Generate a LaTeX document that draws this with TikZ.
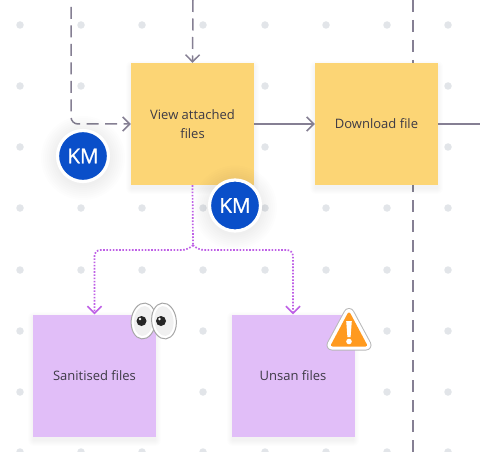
\documentclass[tikz,border=0pt]{standalone}
\usepackage{fontspec}
\setmainfont{Open Sans}
\newfontfamily\avatarfont[FakeBold=0.7]{Open Sans}
\usetikzlibrary{arrows.meta,shapes.geometric}
\definecolor{gridc}{HTML}{E2E5E9}
\definecolor{linec}{HTML}{857F93}
\definecolor{yellowc}{HTML}{FCD575}
\definecolor{purplec}{HTML}{E1BEF8}
\definecolor{purpleline}{HTML}{BE5FE6}
\definecolor{kmblue}{HTML}{0A4FC9}
\definecolor{txt}{HTML}{3D3A45}
\definecolor{warnc}{HTML}{FF9A1F}
\newcommand{\softbox}[4]{%
  \foreach \grow in {1,2,...,6}
    \fill[black,opacity=0.009,rounded corners=\grow pt] (#1-\grow+1,#2-\grow+4) rectangle (#3+\grow-1,#4+\grow+3);}
\newcommand{\softdisc}[3]{%
  \foreach \grow in {1,3,...,15}
    \fill[black,opacity=0.008] (#1,#2+2) circle ({#3+\grow});}
\tikzset{
  griddot/.style={circle,fill=gridc,draw=none,minimum size=7.5pt,inner sep=0pt},
  note/.style={minimum width=123pt,minimum height=122pt,inner sep=0pt,align=center,text=txt,font=\fontsize{13}{18.5}\selectfont},
  yellownote/.style={note,fill=yellowc},
  purplenote/.style={note,fill=purplec},
  flow/.style={draw=linec,line width=1.5pt,-{Straight Barb[length=7pt,width=14pt,line width=1.5pt]}},
  plainflow/.style={draw=linec,line width=1.5pt},
  dashflow/.style={flow,dash pattern=on 12pt off 6.5pt},
  boundary/.style={draw=linec,line width=1.3pt,dash pattern=on 12pt off 8pt},
  dotflow/.style={draw=purpleline,line width=1.7pt,dash pattern=on 1.6pt off 1.6pt,rounded corners=6pt},
  dotarrow/.style={dotflow,-{Straight Barb[length=7pt,width=14pt,line width=1.6pt,color=purpleline]}},
  avatar/.style={circle,fill=kmblue,draw=white,line width=3.2pt,minimum size=51pt,inner sep=0pt,text=white,font=\avatarfont\fontsize{20.5}{20.5}\selectfont},
}
\begin{document}
\begin{tikzpicture}[x=1pt,y=-1pt]
\useasboundingbox[fill=white] (0,0) rectangle (480,452);
\foreach \px in {20,81,142,203,265,326,387,448}
  \foreach \py in {25,86,147,208,270,331,392,452}
    \node[griddot] (d\px-\py) at (\px,\py) {};
\coordinate (bt) at (413,0);
\coordinate (bb) at (413,452);
\draw[boundary] (bt) -- (bb);
\coordinate (s1) at (71,7);
\coordinate (s1b) at (71,124);
\coordinate (s2) at (193,0);
\coordinate (e3) at (480,124);
\coordinate (j1) at (193,245);
\coordinate (jl) at (94.5,250);
\coordinate (jr) at (293,250);
\softbox{131}{63}{254}{185}
\softbox{315}{63}{438}{185}
\softbox{33}{314}{156}{437}
\softbox{232}{314}{354}{437}
\node[yellownote] (view) at (192.5,124) {View attached\\files};
\node[yellownote] (down) at (376.5,124) {Download file};
\node[purplenote] (san) at (94.5,375.5) {Sanitised files};
\node[purplenote] (uns) at (293,375.5) {Unsan files};
\draw[dashflow,rounded corners=7pt] (s1) -- (s1b) -- (view.west);
\draw[dashflow] (s2) -- (view.north);
\draw[flow] (view.east) -- (down.west);
\draw[plainflow] (down.east) -- (e3);
\draw[dotflow] (view.south) -- (j1);
\draw[dotarrow] (j1) -- ++(-5,5) -- (jl) -- (san.north);
\draw[dotarrow] (j1) -- ++(5,5) -- (jr) -- (uns.north);
\softdisc{83}{156}{27}
\softdisc{235}{205.5}{27}
\node[avatar] (km1) at (83,156) {KM};
\node[avatar] (km2) at (235,205.5) {KM};
% eyes
\begin{scope}[rotate around={-6:(143.5,321)}]
\fill[white,draw=gray!70,line width=1pt] (143.5,321) ellipse (12.3pt and 18pt);
\fill[gray!12] (143.5,321) ellipse (9.5pt and 15pt);
\end{scope}
\begin{scope}[rotate around={6:(164,321)}]
\fill[white,draw=gray!70,line width=1pt] (164,321) ellipse (12.3pt and 18pt);
\fill[gray!12] (164,321) ellipse (9.5pt and 15pt);
\end{scope}
\fill[black!85] (141.5,321) circle (5pt);
\fill[black!85] (161,321) circle (5pt);
\fill[white] (140,319) circle (1.3pt);
\fill[white] (159.5,319) circle (1.3pt);
% warning
\draw[draw=gray!55,line width=11pt,line join=round] (349,313.5) -- (366,345) -- (332,345) -- cycle;
\draw[draw=white,fill=white,line width=9pt,line join=round] (349,313.5) -- (366,345) -- (332,345) -- cycle;
\draw[draw=warnc,fill=warnc,line width=3pt,line join=round] (349,314) -- (365.5,345) -- (332.5,345) -- cycle;
\fill[white] (346.2,321) -- (351.8,321) -- (350.6,337) -- (347.4,337) -- cycle;
\fill[white] (349,341.5) circle (2.8pt);
\end{tikzpicture}
\end{document}
